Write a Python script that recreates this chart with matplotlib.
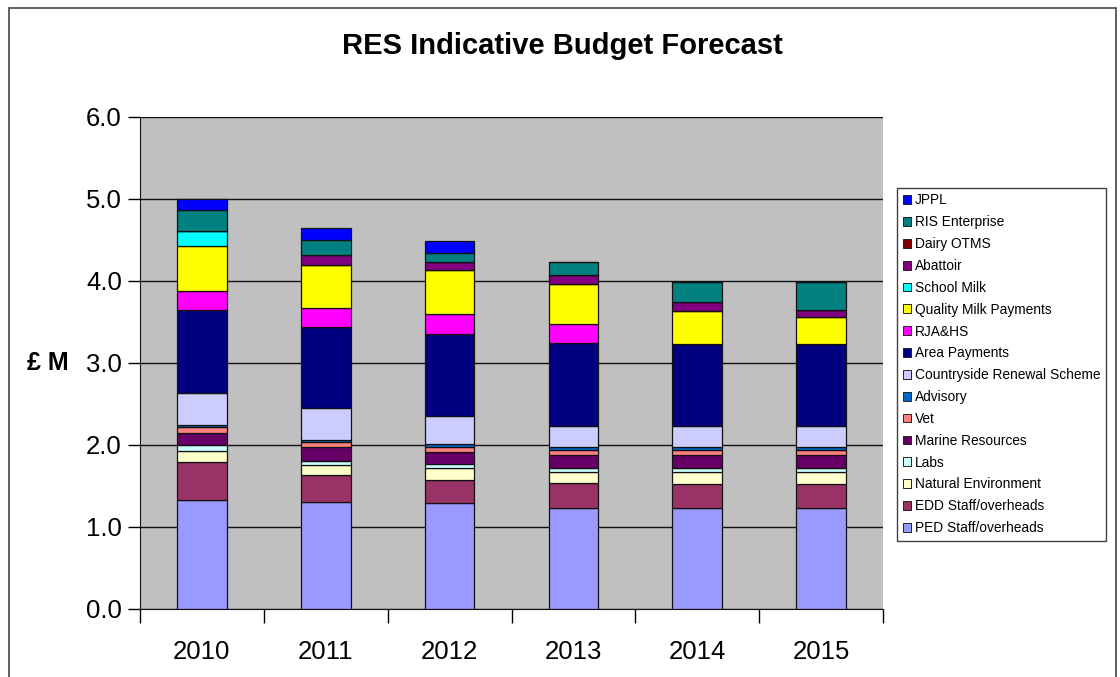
import matplotlib.pyplot as plt
import matplotlib.patches as mpatches
import numpy as np

plt.rcParams["font.family"] = ["Liberation Sans", "DejaVu Sans"]

YEARS = ["2010", "2011", "2012", "2013", "2014", "2015"]

# stacked bottom -> top
SERIES = [
    "PED Staff/overheads", "EDD Staff/overheads", "Natural Environment", "Labs",
    "Marine Resources", "Vet", "Advisory", "Countryside Renewal Scheme",
    "Area Payments", "RJA&HS", "Quality Milk Payments", "School Milk",
    "Abattoir", "Dairy OTMS", "RIS Enterprise", "JPPL",
]
COLORS = [
    "#9999FF", "#993366", "#FFFFCC", "#CCFFFF",
    "#660066", "#FF8080", "#0066CC", "#CCCCFF",
    "#000080", "#FF00FF", "#FFFF00", "#00FFFF",
    "#800080", "#800000", "#008080", "#0000FF",
]

ped       = [1.335, 1.307, 1.288, 1.235, 1.234, 1.234]
edd       = [0.460, 0.326, 0.282, 0.298, 0.293, 0.293]
nat_env   = [0.130, 0.126, 0.146, 0.142, 0.147, 0.147]
labs      = [0.070, 0.049, 0.049, 0.049, 0.041, 0.041]
marine    = [0.147, 0.167, 0.150, 0.160, 0.165, 0.165]
vet       = [0.077, 0.065, 0.065, 0.055, 0.060, 0.060]
advisory  = [0.024, 0.020, 0.030, 0.038, 0.036, 0.036]
crs       = [0.395, 0.395, 0.338, 0.257, 0.256, 0.256]
area      = [1.010, 0.985, 1.003, 1.011, 0.998, 0.998]
rja       = [0.224, 0.233, 0.245, 0.232, 0.000, 0.000]
qmp       = [0.558, 0.521, 0.538, 0.489, 0.407, 0.326]
school    = [0.175, 0.000, 0.000, 0.000, 0.000, 0.000]
abattoir  = [0.000, 0.122, 0.098, 0.102, 0.102, 0.094]
dairy     = [0.000, 0.000, 0.000, 0.000, 0.000, 0.000]
ris       = [0.265, 0.187, 0.114, 0.162, 0.253, 0.342]
jppl      = [0.130, 0.139, 0.138, 0.000, 0.000, 0.000]

VALUES = [ped, edd, nat_env, labs, marine, vet, advisory, crs,
          area, rja, qmp, school, abattoir, dairy, ris, jppl]

fig = plt.figure(figsize=(11.2, 6.77), dpi=100)
fig.add_artist(mpatches.Rectangle((9 / 1120, -0.05), 1107 / 1120, 1.05 - 8 / 677,
                                  transform=fig.transFigure, fill=False,
                                  edgecolor="#444444", linewidth=1.2))

ax = fig.add_axes([140 / 1120, 68 / 677, 743 / 1120, 492 / 677])
ax.set_facecolor("#C0C0C0")

x = np.arange(len(YEARS))
bottom = np.zeros(len(YEARS))
handles = []
for name, vals, col in zip(SERIES, VALUES, COLORS):
    v = np.array(vals)
    ax.bar(x, v, width=0.40, bottom=bottom, color=col, edgecolor="#111111",
           linewidth=0.9, zorder=3)
    bottom += v
    handles.append(mpatches.Patch(facecolor=col, edgecolor="#222222",
                                  linewidth=0.7, label=name))

ax.set_xlim(-0.5, len(YEARS) - 0.5)
ax.set_ylim(0, 6)
ax.set_yticks(np.arange(0, 6.01, 1.0))
ax.set_yticklabels([f"{t:.1f}" for t in np.arange(0, 6.01, 1.0)])
ax.yaxis.grid(True, color="#111111", linewidth=1.0, zorder=1)
ax.set_axisbelow(True)

ax.set_xticks(x)
ax.set_xticklabels(YEARS)
ax.set_xticks(np.arange(-0.5, len(YEARS)), minor=True)
ax.tick_params(axis="x", which="major", length=0, pad=22, labelsize=18.5)
ax.tick_params(axis="x", which="minor", length=10, width=1.0, direction="out")
ax.tick_params(axis="y", length=9, width=1.0, direction="out", pad=4, labelsize=18.5)

for s in ["top", "right"]:
    ax.spines[s].set_visible(False)
ax.spines["left"].set_color("#111111")
ax.spines["bottom"].set_color("#111111")

fig.text(48 / 1120, 1 - 363 / 677, "£ M", ha="center", va="center",
         fontsize=18, fontweight="bold")
fig.text(562 / 1120, 1 - 46 / 677, "RES Indicative Budget Forecast",
         ha="center", va="center", fontsize=21, fontweight="bold")

leg = fig.legend(handles[::-1], [h.get_label() for h in handles[::-1]],
                 loc="upper left", bbox_to_anchor=(897 / 1120, 1 - 188 / 677),
                 fontsize=9.9, frameon=True, fancybox=False, edgecolor="#111111",
                 handlelength=0.6, handleheight=0.6, handletextpad=0.3,
                 labelspacing=0.57, borderpad=0.4, borderaxespad=0)
leg.get_frame().set_linewidth(1.0)

fig.savefig("out.png", dpi=100, facecolor="white")
